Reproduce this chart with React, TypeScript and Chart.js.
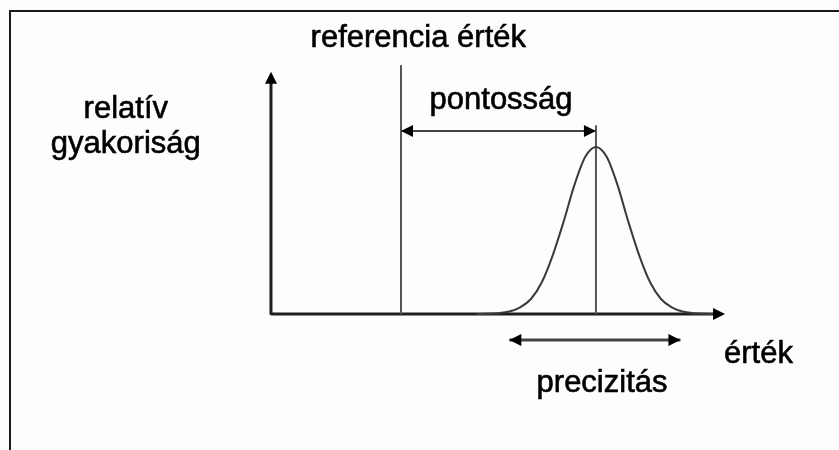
import React, { useEffect, useRef } from "react";
import { Chart, registerables } from "chart.js";

Chart.register(...registerables);

// ---- data (value axis "érték", frequency axis "relatív gyakoriság") ----
const curveX = [4.75, 5.0, 5.25, 5.5, 5.75, 6.0, 6.25, 6.5, 6.75, 7.0, 7.25, 7.5, 7.75, 8.0, 8.25, 8.5, 8.75, 9.0, 9.25, 9.5, 9.75, 10.0, 10.25];
const curveY = [0.0, 0.001, 0.005, 0.015, 0.04, 0.09, 0.19, 0.35, 0.55, 0.77, 0.94, 1.0, 0.94, 0.77, 0.55, 0.35, 0.19, 0.09, 0.04, 0.015, 0.005, 0.001, 0.0];
const referenceValue = 3;
const meanValue = 7.5;
const xAxisEnd = 10.48;
const yAxisTop = 1.45;
const referenceLineTop = 1.49;
const meanLineTop = 1.13;
const accuracyArrowY = 1.095;
const precisionRange = [5.5, 9.45];
const precisionArrowY = -0.156;

const labelTexts = ["referencia érték", "pontosság", "relatív", "gyakoriság", "érték", "precizitás"];
const labelX = [3.4, 5.31, -3.35, -3.35, 11.25, 7.64];
const labelY = [1.6, 1.228, 1.174, 0.964, -0.293, -0.467];

const scaleMinX = -6.254;
const scaleMaxX = 13.109;
const scaleMinY = -0.814;
const scaleMaxY = 1.88;

type Pt = { x: number; y: number };

const seg = (a: Pt, b: Pt, color: string, width: number) => ({
  data: [a, b],
  borderColor: color,
  borderWidth: width,
  pointRadius: 0,
  showLine: true,
  fill: false,
  tension: 0,
});

export default function App() {
  const ref = useRef<HTMLCanvasElement | null>(null);

  useEffect(() => {
    const canvas = ref.current;
    if (!canvas) return;

    const arrowHeads = [
      { x: 0, y: yAxisTop, dir: "up" },
      { x: xAxisEnd, y: 0, dir: "right" },
      { x: referenceValue, y: accuracyArrowY, dir: "left" },
      { x: meanValue, y: accuracyArrowY, dir: "right" },
      { x: precisionRange[0], y: precisionArrowY, dir: "left" },
      { x: precisionRange[1], y: precisionArrowY, dir: "right" },
    ];

    const decor = {
      id: "decor",
      beforeDraw(chart: any) {
        const ctx = chart.ctx;
        ctx.save();
        ctx.fillStyle = "#fdfdfd";
        ctx.fillRect(0, 0, chart.width, chart.height);
        ctx.strokeStyle = "#1a1a1a";
        ctx.lineWidth = 2;
        ctx.beginPath();
        ctx.moveTo(chart.width, 11);
        ctx.lineTo(10, 11);
        ctx.lineTo(10, chart.height);
        ctx.stroke();
        ctx.restore();
      },
      afterDatasetsDraw(chart: any) {
        const ctx = chart.ctx;
        const xs = chart.scales.x;
        const ys = chart.scales.y;
        ctx.save();
        ctx.fillStyle = "#000";
        const L = 12;
        const H = 6;
        for (const a of arrowHeads) {
          const px = xs.getPixelForValue(a.x);
          const py = ys.getPixelForValue(a.y);
          ctx.beginPath();
          if (a.dir === "up") {
            ctx.moveTo(px, py);
            ctx.lineTo(px - H, py + L);
            ctx.lineTo(px + H, py + L);
          } else if (a.dir === "right") {
            ctx.moveTo(px, py);
            ctx.lineTo(px - L, py - H);
            ctx.lineTo(px - L, py + H);
          } else {
            ctx.moveTo(px, py);
            ctx.lineTo(px + L, py - H);
            ctx.lineTo(px + L, py + H);
          }
          ctx.closePath();
          ctx.fill();
        }
        ctx.font = '31px "Liberation Sans", Arial, sans-serif';
        ctx.textAlign = "center";
        ctx.textBaseline = "alphabetic";
        ctx.fillStyle = "#000";
        ctx.strokeStyle = "#000";
        ctx.lineWidth = 0.6;
        labelTexts.forEach((t, i) => {
          const px = xs.getPixelForValue(labelX[i]);
          const py = ys.getPixelForValue(labelY[i]);
          ctx.fillText(t, px, py);
          ctx.strokeText(t, px, py);
        });
        ctx.restore();
      },
    };

    const chart = new Chart(canvas, {
      type: "scatter",
      data: {
        datasets: [
          {
            data: curveX.map((x, i) => ({ x, y: curveY[i] })),
            borderColor: "#3a3a3a",
            borderWidth: 2,
            pointRadius: 0,
            showLine: true,
            fill: false,
            tension: 0.4,
            cubicInterpolationMode: "monotone",
          },
          seg({ x: referenceValue, y: 0 }, { x: referenceValue, y: referenceLineTop }, "#555", 2),
          seg({ x: meanValue, y: 0 }, { x: meanValue, y: meanLineTop }, "#555", 2),
          seg({ x: 0, y: 0 }, { x: xAxisEnd - 0.1, y: 0 }, "#1f1f1f", 3),
          seg({ x: 0, y: -0.005 }, { x: 0, y: yAxisTop - 0.05 }, "#1f1f1f", 3),
          seg({ x: referenceValue, y: accuracyArrowY }, { x: meanValue, y: accuracyArrowY }, "#444", 2),
          seg({ x: precisionRange[0], y: precisionArrowY }, { x: precisionRange[1], y: precisionArrowY }, "#444", 3),
        ] as any,
      },
      options: {
        responsive: false,
        maintainAspectRatio: false,
        animation: false,
        devicePixelRatio: 1,
        layout: { padding: 0 },
        plugins: { legend: { display: false }, tooltip: { enabled: false } },
        events: [],
        scales: {
          x: { type: "linear", min: scaleMinX, max: scaleMaxX, display: false },
          y: { type: "linear", min: scaleMinY, max: scaleMaxY, display: false },
        },
      } as any,
      plugins: [decor],
    });

    return () => chart.destroy();
  }, []);

  return (
    <div style={{ position: "absolute", left: 0, top: 0, width: 839, height: 450 }}>
      <canvas ref={ref} width={839} height={450} style={{ display: "block" }} />
    </div>
  );
}
